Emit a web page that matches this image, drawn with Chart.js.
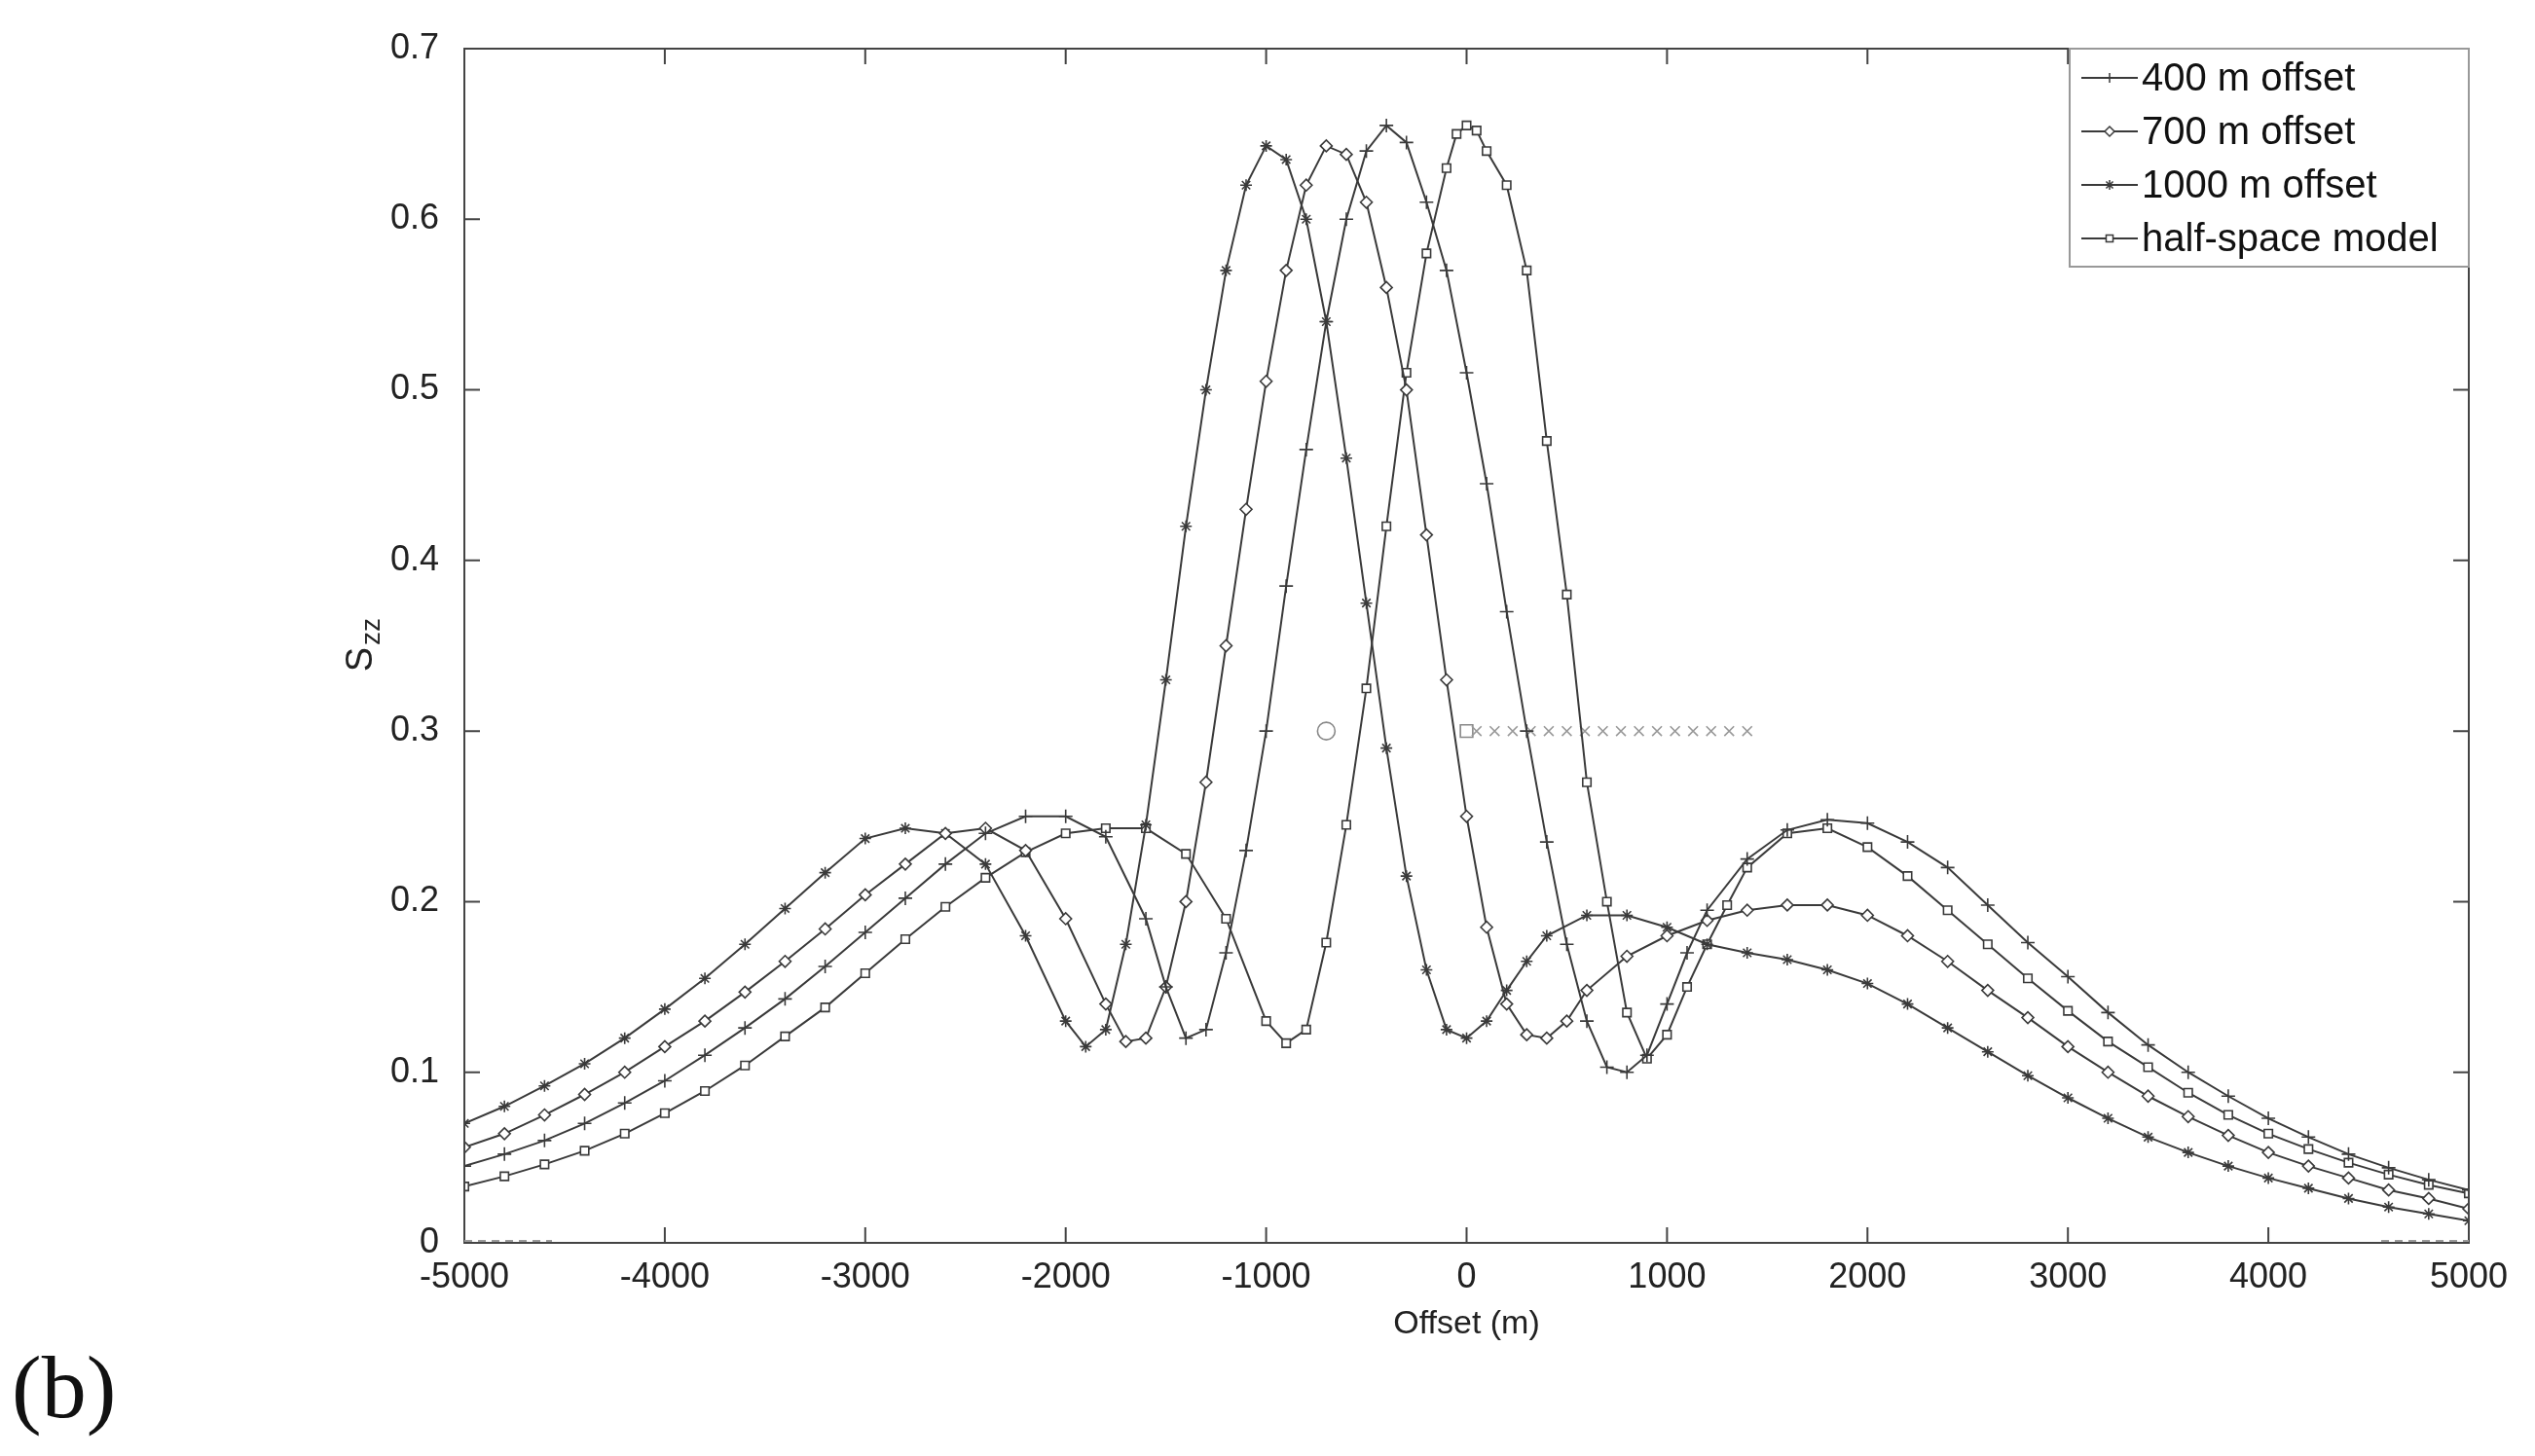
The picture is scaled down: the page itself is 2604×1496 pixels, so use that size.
<!DOCTYPE html>
<html>
<head>
<meta charset="utf-8">
<script src="https://cdn.jsdelivr.net/npm/chart.js@4/dist/chart.umd.min.js"></script>
<style>
  body { margin: 0; background: #fff; }
  #chart { display: block; }
</style>
</head>
<body>
<canvas id="chart" width="2604" height="1496"></canvas>
<script>
// Data
const xTicks = [-5000, -4000, -3000, -2000, -1000, 0, 1000, 2000, 3000, 4000, 5000];
const yTicks = [0, 0.1, 0.2, 0.3, 0.4, 0.5, 0.6, 0.7];

const x400 = [-5000,-4800,-4600,-4400,-4200,-4000,-3800,-3600,-3400,-3200,-3000,-2800,-2600,-2400,-2200,-2000,-1800,-1600,-1500,-1400,-1300,-1200,-1100,-1000,-900,-800,-700,-600,-500,-400,-300,-200,-100,0,100,200,300,400,500,600,700,800,900,1000,1100,1200,1400,1600,1800,2000,2200,2400,2600,2800,3000,3200,3400,3600,3800,4000,4200,4400,4600,4800,5000];
const y400 = [.045,.052,.060,.070,.082,.095,.110,.126,.143,.162,.182,.202,.222,.240,.250,.250,.238,.190,.150,.120,.125,.170,.230,.300,.385,.465,.540,.600,.640,.655,.645,.610,.570,.510,.445,.370,.300,.235,.175,.130,.103,.100,.110,.140,.170,.195,.225,.242,.248,.246,.235,.220,.198,.176,.156,.135,.116,.100,.086,.073,.062,.052,.044,.037,.031];

const x700 = [-5000,-4800,-4600,-4400,-4200,-4000,-3800,-3600,-3400,-3200,-3000,-2800,-2600,-2400,-2200,-2000,-1800,-1700,-1600,-1500,-1400,-1300,-1200,-1100,-1000,-900,-800,-700,-600,-500,-400,-300,-200,-100,0,100,200,300,400,500,600,800,1000,1200,1400,1600,1800,2000,2200,2400,2600,2800,3000,3200,3400,3600,3800,4000,4200,4400,4600,4800,5000];
const y700 = [.056,.064,.075,.087,.100,.115,.130,.147,.165,.184,.204,.222,.240,.243,.230,.190,.140,.118,.120,.150,.200,.270,.350,.430,.505,.570,.620,.643,.638,.610,.560,.500,.415,.330,.250,.185,.140,.122,.120,.130,.148,.168,.180,.189,.195,.198,.198,.192,.180,.165,.148,.132,.115,.100,.086,.074,.063,.053,.045,.038,.031,.026,.020];

const x1000 = [-5000,-4800,-4600,-4400,-4200,-4000,-3800,-3600,-3400,-3200,-3000,-2800,-2600,-2400,-2200,-2000,-1900,-1800,-1700,-1600,-1500,-1400,-1300,-1200,-1100,-1000,-900,-800,-700,-600,-500,-400,-300,-200,-100,0,100,200,300,400,600,800,1000,1200,1400,1600,1800,2000,2200,2400,2600,2800,3000,3200,3400,3600,3800,4000,4200,4400,4600,4800,5000];
const y1000 = [.070,.080,.092,.105,.120,.137,.155,.175,.196,.217,.237,.243,.240,.222,.180,.130,.115,.125,.175,.245,.330,.420,.500,.570,.620,.643,.635,.600,.540,.460,.375,.290,.215,.160,.125,.120,.130,.148,.165,.180,.192,.192,.185,.175,.170,.166,.160,.152,.140,.126,.112,.098,.085,.073,.062,.053,.045,.038,.032,.026,.021,.017,.013];

const xHalf = [-5000,-4800,-4600,-4400,-4200,-4000,-3800,-3600,-3400,-3200,-3000,-2800,-2600,-2400,-2200,-2000,-1800,-1600,-1400,-1200,-1000,-900,-800,-700,-600,-500,-400,-300,-200,-100,-50,0,50,100,200,300,400,500,600,700,800,900,1000,1100,1200,1300,1400,1600,1800,2000,2200,2400,2600,2800,3000,3200,3400,3600,3800,4000,4200,4400,4600,4800,5000];
const yHalf = [.033,.039,.046,.054,.064,.076,.089,.104,.121,.138,.158,.178,.197,.214,.229,.240,.243,.243,.228,.190,.130,.117,.125,.176,.245,.325,.420,.510,.580,.630,.650,.655,.652,.640,.620,.570,.470,.380,.270,.200,.135,.108,.122,.150,.175,.198,.220,.240,.243,.232,.215,.195,.175,.155,.136,.118,.103,.088,.075,.064,.055,.047,.040,.034,.029];

// stray markers at S = 0.3
const xCross = [50,140,230,320,410,500,590,680,770,860,950,1040,1130,1220,1310,1400];
const yCross = [.3,.3,.3,.3,.3,.3,.3,.3,.3,.3,.3,.3,.3,.3,.3,.3];
const xStray = [-700, 0];
const yStray = [.3, .3];

const seriesLabels = ['400 m offset', '700 m offset', '1000 m offset', 'half-space model'];

function pts(xs, ys) {
    return xs.map((x, i) => ({ x: x, y: ys[i] }));
}

function lineSet(label, xs, ys, style, radius) {
    return {
        label: label,
        data: pts(xs, ys),
        showLine: true,
        borderColor: '#3a3a3a',
        backgroundColor: '#ffffff',
        pointBorderColor: '#3a3a3a',
        pointBackgroundColor: '#ffffff',
        borderWidth: 2,
        pointStyle: style,
        pointRadius: radius,
        pointBorderWidth: 1.6,
        tension: 0
    };
}

const datasets = [
    lineSet(seriesLabels[0], x400, y400, 'cross', 7),
    lineSet(seriesLabels[1], x700, y700, 'rectRot', 6),
    Object.assign(lineSet(seriesLabels[2], x1000, y1000, 'star', 6), { pointBackgroundColor: '#222' }),
    lineSet(seriesLabels[3], xHalf, yHalf, 'rect', 6),
    { label: 'x', data: pts(xCross, yCross), showLine: false, pointStyle: 'crossRot', pointRadius: 7, pointBorderColor: '#999', pointBorderWidth: 1.6 },
    { label: 'o', data: pts(xStray, yStray), showLine: false, pointStyle: ['circle', 'rect'], pointRadius: 9, pointBorderColor: '#888', pointBackgroundColor: '#fff', pointBorderWidth: 1.6 }
];

// Inner ticks, S_zz label, "(b)" and legend box
const decor = {
    id: 'decor',
    afterDraw(chart) {
        const ctx = chart.ctx;
        const a = chart.chartArea;
        const xs = chart.scales.x, ys = chart.scales.y;
        ctx.save();
        ctx.strokeStyle = '#444';
        ctx.lineWidth = 2;
        ctx.strokeRect(a.left, a.top, a.right - a.left, a.bottom - a.top);
        ctx.beginPath();
        xTicks.forEach(v => {
            const p = xs.getPixelForValue(v);
            ctx.moveTo(p, a.bottom); ctx.lineTo(p, a.bottom - 16);
            ctx.moveTo(p, a.top); ctx.lineTo(p, a.top + 16);
        });
        yTicks.forEach(v => {
            const p = ys.getPixelForValue(v);
            ctx.moveTo(a.left, p); ctx.lineTo(a.left + 16, p);
            ctx.moveTo(a.right, p); ctx.lineTo(a.right - 16, p);
        });
        ctx.stroke();

        // y title S_zz
        ctx.fillStyle = '#222';
        ctx.translate(372, 665);
        ctx.rotate(-Math.PI / 2);
        ctx.font = '38px Arial, "Liberation Sans", sans-serif';
        ctx.textBaseline = 'middle';
        ctx.textAlign = 'right';
        ctx.fillText('S', 0, 0);
        ctx.font = '28px Arial, "Liberation Sans", sans-serif';
        ctx.textAlign = 'left';
        ctx.fillText('zz', 2, 10);
        ctx.setTransform(1, 0, 0, 1, 0, 0);

        // (b)
        ctx.font = '92px "Liberation Serif", "DejaVu Serif", serif';
        ctx.textAlign = 'left';
        ctx.fillStyle = '#111';
        ctx.fillText('(b)', 12, 1432);

        // legend
        const lx = 2126, ly = a.top, lw = a.right - lx, lh = 224;
        ctx.fillStyle = '#fff';
        ctx.fillRect(lx, ly, lw, lh);
        ctx.strokeStyle = '#999';
        ctx.lineWidth = 2;
        ctx.strokeRect(lx, ly, lw, lh);
        ctx.textBaseline = 'middle';
        for (let i = 0; i < 4; i++) {
            const yy = ly + 30 + i * 55;
            const ds = chart.data.datasets[i];
            ctx.strokeStyle = '#3a3a3a';
            ctx.lineWidth = 2;
            ctx.beginPath();
            ctx.moveTo(lx + 12, yy); ctx.lineTo(lx + 70, yy);
            ctx.stroke();
            ctx.fillStyle = ds.pointBackgroundColor;
            ctx.lineWidth = 1.5;
            Chart.helpers.drawPoint(ctx, {
                pointStyle: ds.pointStyle, radius: 5, borderWidth: 1.5, rotation: 0
            }, lx + 41, yy);
            ctx.fillStyle = '#111';
            ctx.font = '40px Arial, "Liberation Sans", sans-serif';
            ctx.fillText(seriesLabels[i], lx + 74, yy + 2);
        }
        // dashed trace along y = 0 at the ends
        ctx.strokeStyle = '#999';
        ctx.lineWidth = 2;
        ctx.setLineDash([8, 6]);
        ctx.beginPath();
        ctx.moveTo(a.left, a.bottom - 2); ctx.lineTo(a.left + 90, a.bottom - 2);
        ctx.moveTo(a.right - 90, a.bottom - 2); ctx.lineTo(a.right, a.bottom - 2);
        ctx.stroke();
        ctx.restore();
    }
};

new Chart(document.getElementById('chart').getContext('2d'), {
    type: 'scatter',
    data: { datasets: datasets },
    plugins: [decor],
    options: {
        responsive: false,
        animation: false,
        layout: { padding: { top: 50, right: 68, left: 0, bottom: 115 } },
        plugins: { legend: { display: false }, tooltip: { enabled: false } },
        scales: {
            x: {
                type: 'linear', min: -5000, max: 5000,
                afterBuildTicks: s => { s.ticks = xTicks.map(v => ({ value: v })); },
                afterFit: s => { s.height = 104; },
                grid: { display: false },
                border: { display: false },
                ticks: { color: '#222', font: { size: 36, family: 'Arial, "Liberation Sans"' }, padding: 6, maxRotation: 0,
                    callback: v => String(v) },
                title: { display: true, text: 'Offset (m)', color: '#222', font: { size: 34, family: 'Arial, "Liberation Sans"' }, padding: { top: 0, bottom: 0 } }
            },
            y: {
                min: 0, max: 0.7,
                afterBuildTicks: s => { s.ticks = yTicks.map(v => ({ value: v })); },
                afterFit: s => { s.width = 477; },
                grid: { display: false },
                border: { display: false },
                ticks: { color: '#222', font: { size: 36, family: 'Arial, "Liberation Sans"' }, padding: 18,
                    callback: v => String(Math.round(v * 10) / 10) }
            }
        }
    }
});
</script>
</body>
</html>
